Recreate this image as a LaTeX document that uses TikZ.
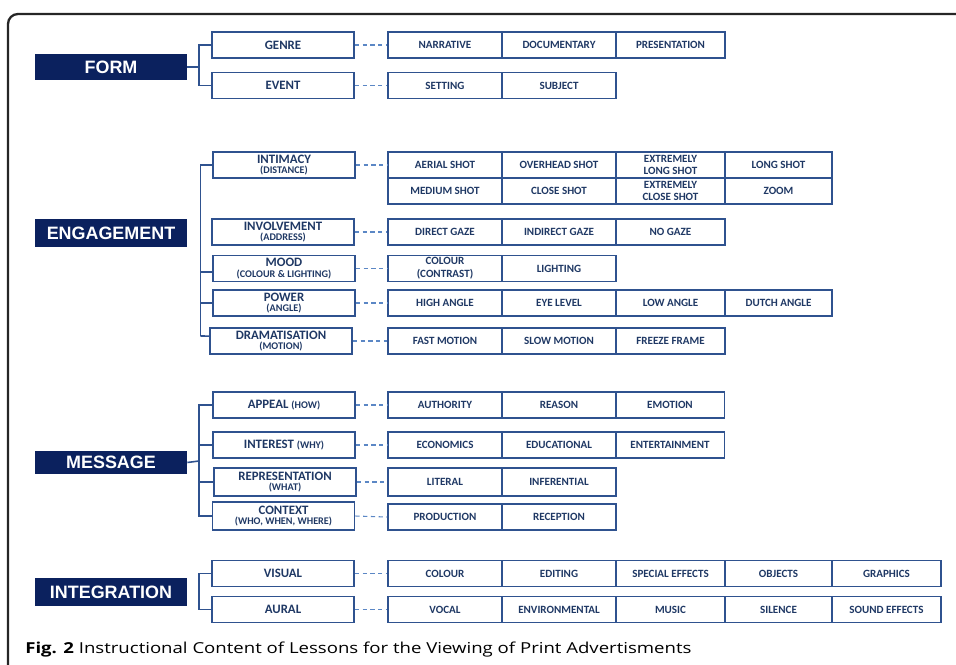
\documentclass[tikz,border=0pt]{standalone}
\usepackage{fontspec}
\setmainfont{Carlito}
\newfontfamily\arialfont{Liberation Sans}
\newfontfamily\capfont{Open Sans}
\usepackage{xcolor}
\usepackage{graphicx}

\definecolor{navyfill}{HTML}{0B215E}
\definecolor{boxline}{HTML}{2F528F}
\definecolor{navytext}{HTML}{1F3864}
\definecolor{dashline}{HTML}{5B87C5}

\newcommand{\subsmall}[1]{{\fontsize{5.8}{6.3}\selectfont #1}}

\begin{document}
\begin{tikzpicture}[x=0.02cm, y=-0.02cm,
    cat/.style={fill=navyfill, text=white, font=\arialfont\bfseries\fontsize{10.2}{11}\selectfont, minimum width=3.04cm, minimum height=0.52cm, inner sep=0pt},
    sub/.style={draw=boxline, line width=1.1pt, text=navytext, font=\bfseries\fontsize{7.3}{7.6}\selectfont, align=center, minimum width=2.84cm, minimum height=0.52cm, inner sep=0pt},
    item/.style={draw=boxline, line width=1.1pt, text=navytext, font=\bfseries\fontsize{6.3}{7.2}\selectfont, align=center, minimum width=2.28cm, minimum height=0.52cm, inner sep=0pt},
    colc/.style={minimum width=2.18cm},
    cold/.style={minimum width=2.14cm},
    link/.style={draw=dashline, line width=0.6pt, dash pattern=on 2.4pt off 2pt},
    branch/.style={draw=boxline, line width=0.9pt}]
            \useasboundingbox (0,0) rectangle (956,665);
            \clip (0,0) rectangle (956,665);
            \draw[line width=1.3pt, rounded corners=0.2cm, color=black!85] (8,700) -- (8,14) -- (1000,14);

            % form
            \node[cat] (form) at (111,67) {FORM};
            \node[sub] (genre) at (283,45) {GENRE};
            \node[sub] (event) at (283,85.5) {EVENT};
            \node[item] (narrative) at (445,45) {NARRATIVE};
            \node[item] (documentary) at (559,45) {DOCUMENTARY};
            \node[item, colc] (presentation) at (670.5,45) {PRESENTATION};
            \node[item] (setting) at (445,85.5) {SETTING};
            \node[item] (subject) at (559,85.5) {SUBJECT};

            \coordinate (formfork) at (199,67);
            \draw[branch] (form.east) -- (formfork);
            \draw[branch] (genre.west) -| (formfork);
            \draw[branch] (event.west) -| (formfork);
            \draw[link] (genre.east) -- (narrative.west);
            \draw[link] (event.east) -- (setting.west);

            % engagement
            \node[cat, minimum height=0.56cm] (engagement) at (111,233) {ENGAGEMENT};
            \node[sub] (intimacy) at (284,165) {INTIMACY\\[-1.5pt]\subsmall{(DISTANCE)}};
            \node[sub] (involvement) at (283,232) {INVOLVEMENT\\[-1.5pt]\subsmall{(ADDRESS)}};
            \node[sub] (mood) at (284,268.5) {MOOD\\[-1.5pt]\subsmall{(COLOUR \& LIGHTING)}};
            \node[sub] (power) at (284,303) {POWER\\[-1.5pt]\subsmall{(ANGLE)}};
            \node[sub] (dram) at (281,341) {DRAMATISATION\\[-1.5pt]\subsmall{(MOTION)}};

            \node[item] (aerial) at (445,165) {AERIAL SHOT};
            \node[item] (overhead) at (559,165) {OVERHEAD SHOT};
            \node[item, colc] (extlong) at (670.5,165) {EXTREMELY\\LONG SHOT};
            \node[item, cold] (long) at (778.5,165) {LONG SHOT};
            \node[item] (medium) at (445,191) {MEDIUM SHOT};
            \node[item] (close) at (559,191) {CLOSE SHOT};
            \node[item, colc] (extclose) at (670.5,191) {EXTREMELY\\CLOSE SHOT};
            \node[item, cold] (zoom) at (778.5,191) {ZOOM};

            \node[item] (direct) at (445,232) {DIRECT GAZE};
            \node[item] (indirect) at (559,232) {INDIRECT GAZE};
            \node[item, colc] (nogaze) at (670.5,232) {NO GAZE};

            \node[item] (colour) at (445,268.5) {COLOUR\\(CONTRAST)};
            \node[item] (lighting) at (559,268.5) {LIGHTING};

            \node[item] (high) at (445,303) {HIGH ANGLE};
            \node[item] (eye) at (559,303) {EYE LEVEL};
            \node[item, colc] (low) at (670.5,303) {LOW ANGLE};
            \node[item, cold] (dutch) at (778.5,303) {DUTCH ANGLE};

            \node[item] (fast) at (445,341) {FAST MOTION};
            \node[item] (slow) at (559,341) {SLOW MOTION};
            \node[item, colc] (freeze) at (670.5,341) {FREEZE FRAME};

            \coordinate (engfork) at (200.5,336);
            \draw[branch] (intimacy.west) -| (engfork);
            \draw[branch] ([yshift=-2pt]mood.west) -| (engfork);
            \draw[branch] (power.west) -| (engfork);
            \draw[branch] ([yshift=2.8pt]dram.west) -- (engfork);
            \draw[link] (intimacy.east) -- (aerial.west);
            \draw[link] (involvement.east) -- (direct.west);
            \draw[link] (mood.east) -- (colour.west);
            \draw[link] (power.east) -- (high.west);
            \draw[link] (dram.east) -- (fast.west);

            % message
            \node[cat, minimum height=0.48cm] (message) at (111,462.5) {MESSAGE};
            \node[sub] (appeal) at (284,405) {APPEAL \subsmall{(HOW)}};
            \node[sub] (interest) at (284,445) {INTEREST \subsmall{(WHY)}};
            \node[sub, minimum height=0.56cm] (repr) at (285,482) {REPRESENTATION\\[-1.5pt]\subsmall{(WHAT)}};
            \node[sub, minimum height=0.56cm] (context) at (283.5,516) {CONTEXT\\[-1.5pt]\subsmall{(WHO, WHEN, WHERE)}};

            \node[item] (authority) at (445,405) {AUTHORITY};
            \node[item] (reason) at (559,405) {REASON};
            \node[item, colc] (emotion) at (670,405) {EMOTION};
            \node[item] (economics) at (445,445) {ECONOMICS};
            \node[item] (educational) at (559,445) {EDUCATIONAL};
            \node[item, colc] (entertainment) at (670,445) {ENTERTAINMENT};
            \node[item, minimum height=0.56cm] (literal) at (445,482) {LITERAL};
            \node[item, minimum height=0.56cm] (inferential) at (559,482) {INFERENTIAL};
            \node[item] (production) at (445,517) {PRODUCTION};
            \node[item] (reception) at (559,517) {RECEPTION};

            \coordinate (msgfork) at (199,461);
            \draw[branch] (message.east) -- (msgfork);
            \draw[branch] (appeal.west) -| (msgfork);
            \draw[branch] (interest.west) -| (msgfork);
            \draw[branch] (repr.west) -| (msgfork);
            \draw[branch] (context.west) -| (msgfork);
            \draw[link] (appeal.east) -- (authority.west);
            \draw[link] (interest.east) -- (economics.west);
            \draw[link] (repr.east) -- (literal.west);
            \draw[link] (context.east) -- (production.west);

            % integration
            \node[cat, minimum height=0.56cm] (integration) at (111,592) {INTEGRATION};
            \node[sub] (visual) at (283,573.5) {VISUAL};
            \node[sub] (aural) at (283,609.5) {AURAL};

            \node[item] (colour2) at (445,573.5) {COLOUR};
            \node[item] (editing) at (559,573.5) {EDITING};
            \node[item, colc] (special) at (670.5,573.5) {SPECIAL EFFECTS};
            \node[item, cold] (objects) at (778.5,573.5) {OBJECTS};
            \node[item, colc] (graphics) at (886.5,573.5) {GRAPHICS};
            \node[item] (vocal) at (445,609.5) {VOCAL};
            \node[item] (environmental) at (559,609.5) {ENVIRONMENTAL};
            \node[item, colc] (music) at (670.5,609.5) {MUSIC};
            \node[item, cold] (silence) at (778.5,609.5) {SILENCE};
            \node[item, colc] (sound) at (886.5,609.5) {SOUND EFFECTS};

            \coordinate (intfork) at (199,591);
            \draw[branch] (visual.west) -| (intfork);
            \draw[branch] (aural.west) -| (intfork);
            \draw[link] (visual.east) -- (colour2.west);
            \draw[link] (aural.east) -- (vocal.west);

            % caption
            \node[anchor=base west, inner sep=0pt, font=\capfont\fontsize{8.6}{10}\selectfont] (caption) at (25,653) {\scalebox{1.23}[1]{\textbf{Fig. 2} Instructional Content of Lessons for the Viewing of Print Advertisments}};
        \end{tikzpicture}
\end{document}
